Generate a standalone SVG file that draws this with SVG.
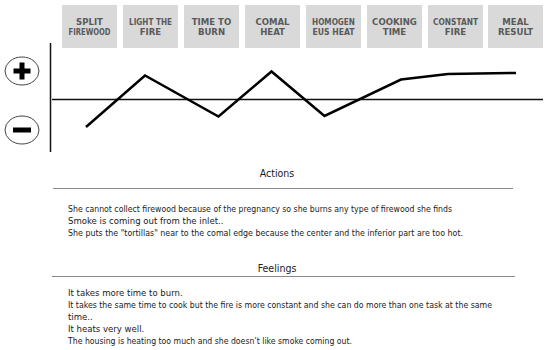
<svg xmlns="http://www.w3.org/2000/svg" width="550" height="350" viewBox="0 0 550 350">
<style>
.box{fill:#d9d9d9}
.bl{font-family:"Liberation Sans Narrow","DejaVu Sans Condensed","Liberation Sans",sans-serif;font-weight:bold;font-size:9.5px;fill:#5a5a5a;text-anchor:middle}
.tx{font-family:"Liberation Sans Narrow","DejaVu Sans Condensed","Liberation Sans",sans-serif;font-size:9.5px;fill:#1a1a1a}
.hd{font-family:"Liberation Sans Narrow","DejaVu Sans Condensed","Liberation Sans",sans-serif;font-size:10.5px;fill:#1a1a1a;text-anchor:middle}
.rule{stroke:#8a8a8a;stroke-width:1.2}
.axis{stroke:#111;stroke-width:1.5}
</style>
<rect width="550" height="350" fill="#fff"/>
<g id="n1"><rect class="box" x="62" y="5" width="55" height="43"/><text class="bl" x="89.5" y="25">SPLIT</text><text class="bl" x="89.5" y="35" textLength="42" lengthAdjust="spacingAndGlyphs">FIREWOOD</text></g>
<g id="n2"><rect class="box" x="123" y="5" width="55" height="43"/><text class="bl" x="150.5" y="25" textLength="43" lengthAdjust="spacingAndGlyphs">LIGHT THE</text><text class="bl" x="150.5" y="35">FIRE</text></g>
<g id="n3"><rect class="box" x="184" y="5" width="55" height="43"/><text class="bl" x="211.5" y="25">TIME TO</text><text class="bl" x="211.5" y="35">BURN</text></g>
<g id="n4"><rect class="box" x="245" y="5" width="55" height="43"/><text class="bl" x="272.5" y="25">COMAL</text><text class="bl" x="272.5" y="35">HEAT</text></g>
<g id="n5"><rect class="box" x="306" y="5" width="55" height="43"/><text class="bl" x="333.5" y="25" textLength="43" lengthAdjust="spacingAndGlyphs">HOMOGEN</text><text class="bl" x="333.5" y="35" textLength="42" lengthAdjust="spacingAndGlyphs">EUS HEAT</text></g>
<g id="n6"><rect class="box" x="367" y="5" width="55" height="43"/><text class="bl" x="394.5" y="25">COOKING</text><text class="bl" x="394.5" y="35">TIME</text></g>
<g id="n7"><rect class="box" x="428" y="5" width="55" height="43"/><text class="bl" x="455.5" y="25" textLength="45" lengthAdjust="spacingAndGlyphs">CONSTANT</text><text class="bl" x="455.5" y="35">FIRE</text></g>
<g id="n8"><rect class="box" x="488" y="5" width="55" height="43"/><text class="bl" x="515.5" y="25">MEAL</text><text class="bl" x="515.5" y="35">RESULT</text></g>
<g id="plus"><ellipse cx="22" cy="71" rx="17" ry="14" fill="#fff" stroke="#444" stroke-width="1"/><rect x="13.5" y="68.5" width="17" height="5" fill="#000"/><rect x="19.5" y="62.5" width="5" height="17" fill="#000"/></g>
<g id="minus"><ellipse cx="22" cy="130" rx="17" ry="14" fill="#fff" stroke="#444" stroke-width="1"/><rect x="13" y="127.5" width="18" height="5" fill="#000"/></g>
<g id="connectors">
<line class="axis" x1="50.5" y1="43" x2="50.5" y2="152"/>
<line class="axis" x1="52" y1="99.5" x2="543" y2="99.5"/>
<polyline fill="none" stroke="#000" stroke-width="2.5" stroke-linejoin="miter" points="86,127 145,75.5 218.5,116.5 271.5,71.5 324.5,116 401,79.5 448,74 516,73"/>
</g>
<g id="actions">
<text class="hd" x="277" y="177">Actions</text>
<line class="rule" x1="53" y1="188.5" x2="513" y2="188.5"/>
<text class="tx" x="68" y="212" textLength="384" lengthAdjust="spacingAndGlyphs">She cannot collect firewood because of the pregnancy so she burns any type of firewood she finds</text>
<text class="tx" x="68" y="224">Smoke is coming out from the inlet..</text>
<text class="tx" x="68" y="236" textLength="395" lengthAdjust="spacingAndGlyphs">She puts the "tortillas" near to the comal edge because the center and the inferior part are  too hot.</text>
</g>
<g id="feelings">
<text class="hd" x="277" y="272">Feelings</text>
<line class="rule" x1="52" y1="276.5" x2="515" y2="276.5"/>
<text class="tx" x="68" y="295.5">It takes more time to burn.</text>
<text class="tx" x="68" y="307.5" textLength="424" lengthAdjust="spacingAndGlyphs">It takes the same time to cook but the fire is more constant and she can do more than one task at the same</text>
<text class="tx" x="68" y="319.5">time..</text>
<text class="tx" x="68" y="331.5">It heats very well.</text>
<text class="tx" x="68" y="343.5" textLength="284" lengthAdjust="spacingAndGlyphs">The housing is heating too much and she doesn’t like smoke coming out.</text>
</g>
</svg>
